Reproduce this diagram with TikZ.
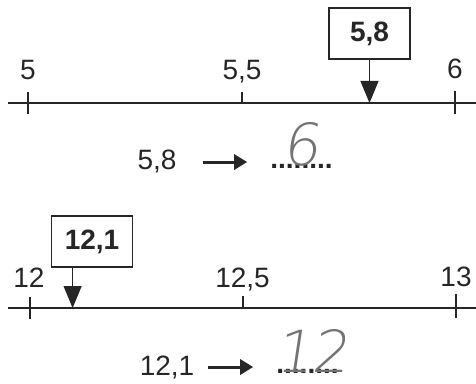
\documentclass[tikz,border=0pt]{standalone}
\usepackage{fontspec}
\setmainfont{Liberation Sans}
\newfontfamily\handfont[FakeSlant=0.15]{DejaVu Sans ExtraLight}
\usetikzlibrary{arrows.meta, positioning}

\begin{document}
\begin{tikzpicture}[
    x=1pt, y=1pt,
    font=\fontsize{28}{32}\selectfont,
    numline/.style={line width=2pt, draw=black!85},
    tick/.style={line width=1.4pt, draw=black!85},
    numlabel/.style={anchor=base, text=black!85, inner sep=0pt},
    valbox/.style={draw=black!85, line width=1.2pt,
                   minimum width=81pt, minimum height=51pt,
                   font=\fontsize{28}{32}\selectfont\bfseries, text=black!85},
    pointer/.style={-{Triangle[length=22pt,width=18pt]},
                    line width=1.2pt, draw=black!85},
    maps/.style={-{Triangle[length=13pt,width=15pt]},
                 line width=3pt, draw=black!85},
    answer/.style={anchor=base, inner sep=0pt, text=black!85},
    blank/.style={anchor=base, inner sep=0pt, text=black!85,
                  font=\fontsize{28}{32}\selectfont\bfseries},
    hand/.style={text=black!55, inner sep=0pt,
                 font=\fontsize{58}{58}\handfont},
]
\useasboundingbox (0,0) rectangle (476,383);

% --- Line 1: 5 to 6 ---
\coordinate (top0) at (8,280);
\coordinate (top1) at (476,280);
\draw[numline] (top0) -- (top1);
\draw[tick] (28,269) -- (28,291);
\draw[tick] (242,280) -- (242,291);
\draw[tick] (455,269) -- (455,292);

\node[numlabel] (l5)  at (28,303)  {5};
\node[numlabel] (l55) at (242,303) {5,5};
\node[numlabel] (l6)  at (455,304) {6};

\node[valbox] (v58) at (369.5,349.5) {5,8};
\coordinate (p58) at (369.5,280);
\draw[pointer] (v58.south) -- (p58);

% --- rounding 1 ---
\node[answer] (e58)   at (157,213)   {5,8};
\node[blank]  (ans58) at (301.5,214) {........};
\node[hand]   (h6)    at (301,239)   {6};
\draw[maps, shorten <=26pt, shorten >=23pt]
     (e58.east) -- (e58.east -| ans58.west);

% --- Line 2: 12 to 13 ---
\coordinate (bot0) at (8,75);
\coordinate (bot1) at (476,75);
\draw[numline] (bot0) -- (bot1);
\draw[tick] (30,64) -- (30,86);
\draw[tick] (243,75) -- (243,87);
\draw[tick] (456,65) -- (456,89);

\node[numlabel] (l12)  at (29,96)    {12};
\node[numlabel] (l125) at (242.5,96) {12,5};
\node[numlabel] (l13)  at (456,97)   {13};

\node[valbox] (v121) at (92,141.5) {12,1};
\coordinate (p121) at (72.6,75);
\draw[pointer] (v121.south -| p121) -- (p121);

% --- rounding 2 ---
\node[answer] (e121)   at (167,8)    {12,1};
\node[blank]  (ans121) at (307.5,10) {........};
\node[hand]   (h12)    at (312,32)   {12};
\draw[maps, shorten <=14pt, shorten >=23pt]
     (e121.east) -- (e121.east -| ans121.west);

\end{tikzpicture}
\end{document}
